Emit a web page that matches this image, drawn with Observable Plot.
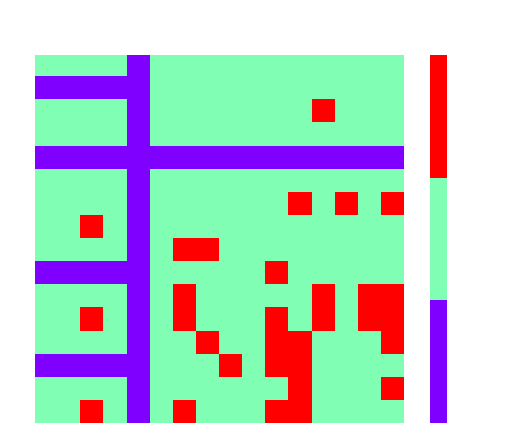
<!DOCTYPE html>
<html>
<head>
<meta charset="utf-8">
<script src="https://cdn.jsdelivr.net/npm/d3@7"></script>
<script src="https://cdn.jsdelivr.net/npm/@observablehq/plot@0.6"></script>
<style>
  html, body { margin: 0; padding: 0; background: #fff; }
  #wrap { position: relative; width: 525px; height: 445px; }
  #wrap > svg, #wrap > figure { position: absolute; left: 0; top: 0; margin: 0; }
</style>
</head>
<body>
<div id="wrap"></div>
<script>
// Grid rows (top to bottom); P = 0 (purple), G = 1 (green), R = 2 (red)
const rows = [
  "GGGGPGGGGGGGGGGG",
  "PPPPPGGGGGGGGGGG",
  "GGGGPGGGGGGGRGGG",
  "GGGGPGGGGGGGGGGG",
  "PPPPPPPPPPPPPPPP",
  "GGGGPGGGGGGGGGGG",
  "GGGGPGGGGGGRGRGR",
  "GGRGPGGGGGGGGGGG",
  "GGGGPGRRGGGGGGGG",
  "PPPPPGGGGGRGGGGG",
  "GGGGPGRGGGGGRGRR",
  "GGRGPGRGGGRGRGRR",
  "GGGGPGGRGGRRGGGR",
  "PPPPPGGGRGRRGGGG",
  "GGGGPGGGGGGRGGGR",
  "GGRGPGRGGGRRGGGG"
];
const levels = [0, 1, 2];
const levelColors = ["#8000ff", "#80ffb4", "#ff0000"];
const codeToLevel = {P: 0, G: 1, R: 2};

const cells = [];
rows.forEach((r, i) => {
  [...r].forEach((ch, j) => cells.push({row: i, col: j, v: codeToLevel[ch]}));
});

const colorScale = {type: "ordinal", domain: levels, range: levelColors};

const main = Plot.plot({
  width: 525,
  height: 445,
  marginLeft: 35,
  marginRight: 121,
  marginTop: 55,
  marginBottom: 22,
  x: {type: "band", domain: d3.range(16), range: [34, 404], padding: 0, round: false, axis: null},
  y: {type: "band", domain: d3.range(16), range: [53, 423], padding: 0, round: false, axis: null},
  color: colorScale,
  marks: [
    Plot.cell(cells, {x: "col", y: "row", fill: "v", clip: true, shapeRendering: "crispEdges"})
  ]
});

const bar = Plot.plot({
  width: 525,
  height: 445,
  marginLeft: 430,
  marginRight: 78,
  marginTop: 55,
  marginBottom: 22,
  y: {type: "band", domain: [...levels].reverse(), padding: 0, round: false, axis: null},
  color: colorScale,
  marks: [
    Plot.cell(levels, {y: d => d, fill: d => d, shapeRendering: "crispEdges"})
  ]
});

const wrap = document.getElementById("wrap");
wrap.appendChild(main);
wrap.appendChild(bar);
bar.style.background = "transparent";
</script>
</body>
</html>
